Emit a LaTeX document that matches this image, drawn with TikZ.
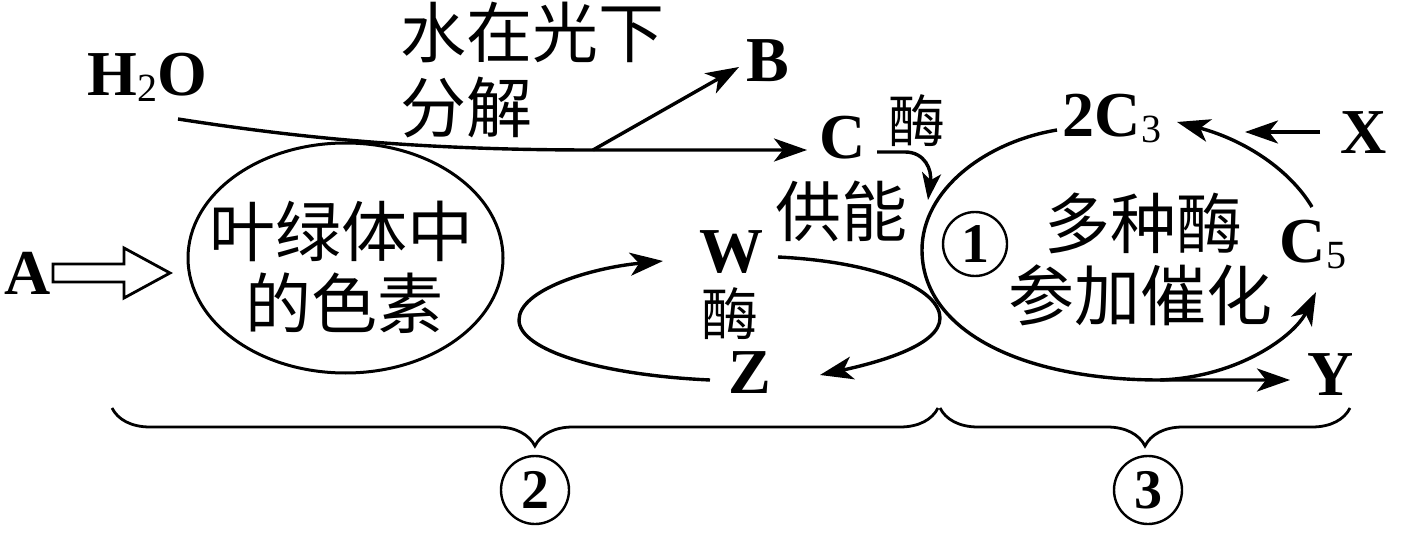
\documentclass[tikz,border=0pt]{standalone}
\usepackage{fontspec}
\setmainfont{Liberation Serif}
\newfontfamily\cjk{Noto Sans CJK SC}
\usetikzlibrary{arrows.meta,decorations.pathreplacing,shapes.geometric}
\newcommand{\subnum}[1]{\raisebox{-6pt}{\fontsize{40}{40}\selectfont\mdseries #1}}
\begin{document}
\begin{tikzpicture}[x=1pt,y=-1pt,
  lat/.style={font=\fontsize{64}{64}\selectfont\bfseries, inner sep=0pt},
  zh/.style={font=\fontsize{66}{72}\selectfont\cjk, inner sep=0pt},
  zhs/.style={font=\fontsize{57}{57}\selectfont\cjk, inner sep=0pt},
  ln/.style={line width=3.4pt},
  arr/.style={ln,-{Stealth[length=33pt,width=23pt,inset=9pt]}},
  sarr/.style={ln,-{Stealth[length=27pt,width=19pt,inset=7pt]}},
  cnum/.style={circle,draw,line width=2.4pt,inner sep=0pt,font=\fontsize{56}{56}\selectfont\bfseries},
  brc/.style={line width=2.8pt,decorate,decoration={brace,mirror,amplitude=38pt}}
]
\useasboundingbox (0,0) rectangle (1404,553);

% labels
\node[lat] (h2o) at (147,77) {H\subnum{2}O};
\node[zh,anchor=west] (sz1) at (400,32) {水在光下};
\node[zh,anchor=west] (sz2) at (400,107) {分解};
\node[lat] (b) at (768,61) {B};
\node[lat] (c) at (843,138) {C};
\node[zhs] (m1) at (917,121) {酶};
\node[zh] (gn) at (841,211) {供能};
\node[lat] (a) at (28,273) {A};
\node[lat] (w) at (731,252) {W};
\node[zhs] (m2) at (730,314) {酶};
\node[lat] (z) at (750,373) {Z};
\node[lat] (c3) at (1112,119) {2C\subnum{3}};
\node[lat] (x) at (1364,133) {X};
\node[lat] (c5) at (1313,245) {C\subnum{5}};
\node[lat] (y) at (1331,375) {Y};
\node[cnum,minimum size=64pt] (n1) at (975,244) {1};
\node[zh] (t1) at (1143,223) {多种酶};
\node[zh] (t2) at (1140,295) {参加催化};

% pigment ellipse
\node[ellipse,draw,line width=3pt,minimum width=315pt,minimum height=230pt] (pig) at (345.5,258) {};
\node[zh] (p1) at (341,231) {叶绿体中};
\node[zh] (p2) at (344,303) {的色素};

% hollow arrow A
\draw[line width=2.8pt,line join=miter] (53,264) -- (124,264) -- (124,248) -- (170,273) -- (124,298) -- (124,282) -- (53,282) -- cycle;

% water line
\coordinate (ws) at (178,119);
\coordinate (br) at (593,150);
\coordinate (ce) at (807,150);
\coordinate (be) at (739,67);
\draw[arr] (ws) .. controls (300,138) and (420,150) .. (br) -- (ce);
\draw[arr] (br) -- (be);

% small arrow from C
\coordinate (cs) at (877,152);
\coordinate (cd) at (928,200);
\draw[sarr] (cs) -- (905,152) .. controls (925,152) and (932,170) .. (cd);

% right cycle
\coordinate (r1) at (1057,130);
\coordinate (rb) at (1160,380);
\coordinate (ye) at (1290,380);
\coordinate (c5e) at (1316,292);
\coordinate (c5s) at (1312,207);
\coordinate (c3e) at (1177,122);
\coordinate (xs) at (1320,132);
\coordinate (xe) at (1245,132);
\draw[arr] (r1) .. controls (985,142) and (922,190) .. (922,250) .. controls (922,330) and (1020,380) .. (rb) -- (ye);
\draw[arr] (rb) .. controls (1240,377) and (1295,335) .. (c5e);
\draw[arr] (c5s) .. controls (1290,170) and (1245,140) .. (c3e);
\draw[arr] (xs) -- (xe);

% middle loop
\coordinate (zs) at (710,380);
\coordinate (we) at (663,261);
\coordinate (ws2) at (778,257);
\coordinate (ze) at (820,375);
\draw[arr] (zs) .. controls (600,375) and (519,350) .. (519,320) .. controls (519,290) and (590,268) .. (we);
\draw[arr] (ws2) .. controls (880,262) and (940,290) .. (940,318) .. controls (940,345) and (880,362) .. (ze);

% braces
\draw[brc,decoration={aspect=0.512}] (112,408) -- (938,408);
\draw[brc] (940,408) -- (1350,408);
\node[cnum,minimum size=68pt] (n2) at (535,490) {2};
\node[cnum,minimum size=68pt] (n3) at (1148,490) {3};
\end{tikzpicture}
\end{document}
